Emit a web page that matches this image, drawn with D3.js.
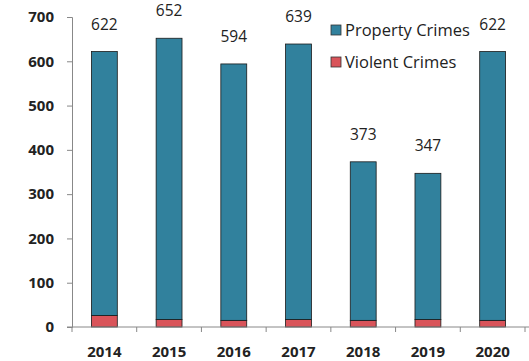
<!DOCTYPE html>
<html><head><meta charset="utf-8">
<script src="https://cdn.jsdelivr.net/npm/d3@7"></script>
<style>html,body{margin:0;padding:0;background:#fff;}svg{display:block;}</style>
</head><body>
<svg id="c" width="529" height="361"></svg>
<script>
const years = ["2014","2015","2016","2017","2018","2019","2020"];
const totals = [622, 652, 594, 639, 373, 347, 622];
const violent = [26, 17, 15, 17, 15, 17, 15];
const property = [596, 635, 579, 622, 358, 330, 607];
const yTicks = [0,100,200,300,400,500,600,700];
const seriesNames = ["Property Crimes", "Violent Crimes"];
const colors = {"Property Crimes":"#31819d", "Violent Crimes":"#d9545a"};

const svg = d3.select("#c");
const m = {l:72, r:4, t:17, b:34};
const W = 529, H = 361;
const x = d3.scaleBand().domain(years).range([m.l, W - m.r]).paddingInner(0.6).paddingOuter(0.3);
const xb = d3.scaleBand().domain(years).range([m.l, W - m.r]);
const y = d3.scaleLinear().domain([0,700]).range([H - m.b, m.t]);

const data = years.map((yr,i)=>({year:yr, violent:violent[i], property:property[i], total:totals[i]}));
const stack = d3.stack().keys(["violent","property"])(data);
const keyColor = {violent: colors["Violent Crimes"], property: colors["Property Crimes"]};

stack.forEach(s=>{
  svg.append("g").selectAll("rect").data(s).join("rect")
    .attr("x", d=>x(d.data.year))
    .attr("width", x.bandwidth())
    .attr("y", d=>y(d[1]))
    .attr("height", d=>y(d[0]) - y(d[1]))
    .attr("fill", keyColor[s.key])
    .attr("stroke", "#1a1a1a")
    .attr("stroke-width", 0.8);
});

// value labels
svg.append("g").selectAll("text").data(data).join("text")
  .attr("x", d=>x(d.year) + x.bandwidth()/2)
  .attr("y", d=>y(d.total) - 22)
  .attr("text-anchor","middle")
  .attr("font-family","'Open Sans', sans-serif")
  .attr("font-size", 15.5)
  .attr("fill","#222")
  .text(d=>d.total);

// y axis
const ya = svg.append("g").attr("transform",`translate(${m.l},0)`)
  .call(d3.axisLeft(y).tickValues(yTicks).tickSize(5).tickPadding(13));
ya.selectAll("path,line").attr("stroke","#888");
ya.selectAll("text").attr("font-family","'Open Sans', sans-serif").attr("font-weight","bold").attr("font-size",15).attr("fill","#222");

// x axis
const xa = svg.append("g").attr("transform",`translate(0,${y(0)})`);
xa.append("line").attr("x1",m.l - 5).attr("x2",W - m.r + 10).attr("stroke","#888");
xa.selectAll("line.t").data(years.concat(["end"])).join("line").attr("class","t")
  .attr("x1",(d,i)=> m.l + i*xb.step()).attr("x2",(d,i)=> m.l + i*xb.step())
  .attr("y1",0).attr("y2",5).attr("stroke","#888");
xa.selectAll("text").data(years).join("text")
  .attr("x", d=>xb(d) + xb.bandwidth()/2)
  .attr("y", 30)
  .attr("text-anchor","middle")
  .attr("font-family","'Open Sans', sans-serif")
  .attr("font-weight","bold").attr("font-size",15).attr("fill","#222")
  .text(d=>d);

// legend
const lg = svg.append("g").attr("transform","translate(331,25)");
seriesNames.forEach((n,i)=>{
  const g = lg.append("g").attr("transform",`translate(0,${i*32})`);
  g.append("rect").attr("x",0).attr("y",0).attr("width",10).attr("height",10)
    .attr("fill", colors[n]).attr("stroke","#333").attr("stroke-width",0.8);
  g.append("text").attr("x",14).attr("y",11)
    .attr("font-family","'Open Sans', sans-serif").attr("font-size",16.5).attr("fill","#222")
    .text(n);
});
</script>
</body></html>
